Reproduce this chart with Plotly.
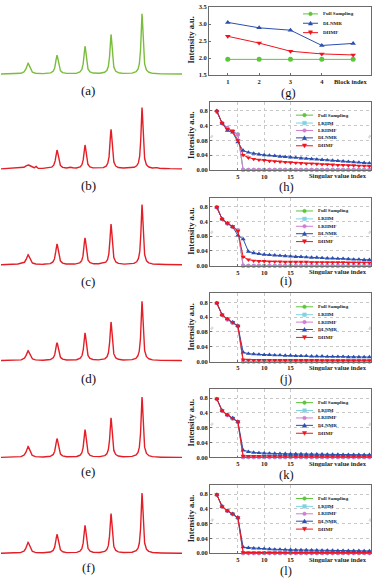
import numpy as np
import plotly.graph_objects as go

W, H = 373, 581

# ---------------- spectra (a)-(f): peak parameters ----------------
peak_pos = [27, 56, 84, 110, 141]
peak_hwhm = [2.0, 1.6, 1.4, 1.3, 1.2]
heights_a = [11, 19, 28, 40, 61]
heights_b = [4, 19, 24, 40, 62]
heights_c = [10, 21, 27, 41, 61]
heights_d = [10, 18, 28, 39, 60]
heights_e = [11, 19, 28, 40, 61]
heights_f = [11, 19, 28, 40, 61]
# small artefacts visible in (b) and (c)
artefact_pos_b = [10, 20, 35, 46, 70, 96, 127, 156, 166]
artefact_h_b = [0.7, 0.6, 2.0, 0.8, 1.2, 0.7, 1.0, 0.9, 0.6]
artefact_w_b = [3, 2, 0.8, 2, 2, 2, 2.5, 2, 2]
artefact_pos_c = [18, 100, 160]
artefact_h_c = [0.5, 0.4, 0.4]
artefact_w_c = [3, 3, 3]
spec_labels = ["(a)", "(b)", "(c)", "(d)", "(e)", "(f)"]

# ---------------- (g) ----------------
block_index = [1, 2, 3, 4, 5]
g_full = [1.96, 1.96, 1.96, 1.96, 1.96]
g_dlnmr = [3.05, 2.89, 2.82, 2.37, 2.43]
g_dhmf = [2.64, 2.44, 2.20, 2.12, 2.09]

# ---------------- (h)-(l) singular values ----------------
sv_index = list(range(1, 31))
full_head = [0.78, 0.46, 0.35, 0.28, 0.205]
zeros_tail = [0.0] * 25

h_dlnmr = [0.80, 0.46, 0.29, 0.25, 0.075,
           0.052, 0.047, 0.044, 0.042, 0.040, 0.039, 0.038, 0.036, 0.035, 0.034, 0.033, 0.031, 0.030,
           0.029, 0.028, 0.027, 0.026, 0.025, 0.024, 0.023, 0.022, 0.021, 0.020, 0.019, 0.018]
h_dhmf = [0.78, 0.46, 0.32, 0.28, 0.080,
          0.040, 0.033, 0.029, 0.027, 0.026, 0.024, 0.023, 0.022, 0.021, 0.020, 0.019, 0.018, 0.017,
          0.017, 0.016, 0.015, 0.015, 0.014, 0.013, 0.013, 0.012, 0.012, 0.011, 0.011, 0.010]
i_dlnmr = [0.78, 0.46, 0.36, 0.28, 0.095,
           0.072, 0.038, 0.034, 0.032, 0.030, 0.029, 0.028, 0.027, 0.026, 0.025, 0.024, 0.024, 0.023,
           0.022, 0.022, 0.021, 0.020, 0.020, 0.019, 0.019, 0.018, 0.017, 0.017, 0.016, 0.016]
i_dhmf = [0.78, 0.46, 0.36, 0.29, 0.19,
          0.024, 0.016, 0.013, 0.012, 0.012, 0.011, 0.011, 0.011, 0.010, 0.010, 0.010, 0.010, 0.010,
          0.009, 0.009, 0.009, 0.009, 0.009, 0.009, 0.009, 0.008, 0.008, 0.008, 0.008, 0.008]
j_dlnmr = [0.78, 0.46, 0.36, 0.29, 0.21,
           0.025, 0.021, 0.020, 0.019, 0.018, 0.018, 0.017, 0.017, 0.016, 0.016, 0.015, 0.015, 0.015,
           0.014, 0.014, 0.014, 0.013, 0.013, 0.013, 0.013, 0.012, 0.012, 0.012, 0.012, 0.012]
j_dhmf = [0.78, 0.46, 0.36, 0.29, 0.21,
          0.005, 0.0045, 0.004, 0.004, 0.004, 0.004, 0.0038, 0.0037, 0.0036, 0.0035, 0.0035, 0.0035, 0.0034,
          0.0034, 0.0034, 0.0033, 0.0033, 0.0033, 0.0033, 0.0032, 0.0032, 0.0032, 0.0032, 0.0031, 0.0031]
k_dlnmr = [0.78, 0.46, 0.36, 0.29, 0.21,
           0.019, 0.015, 0.013, 0.012, 0.011, 0.0105, 0.010, 0.0098, 0.0095, 0.0092, 0.009, 0.0088, 0.0086,
           0.0084, 0.0082, 0.008, 0.0078, 0.0076, 0.0074, 0.0072, 0.0071, 0.007, 0.0069, 0.0068, 0.0068]
k_dhmf = [0.78, 0.46, 0.36, 0.29, 0.21,
          0.0036, 0.0035, 0.0035, 0.0034, 0.0034, 0.0033, 0.0033, 0.0033, 0.0032, 0.0032, 0.0032, 0.0031, 0.0031,
          0.0031, 0.0031, 0.003, 0.003, 0.003, 0.003, 0.003, 0.003, 0.003, 0.003, 0.003, 0.003]
l_dlnmr = [0.78, 0.46, 0.36, 0.29, 0.21,
           0.016, 0.0145, 0.013, 0.0128, 0.012, 0.011, 0.010, 0.010, 0.0094, 0.009, 0.0088, 0.0085, 0.0082,
           0.008, 0.0078, 0.0075, 0.0072, 0.007, 0.0068, 0.0066, 0.0064, 0.0063, 0.0062, 0.0061, 0.006]
l_dhmf = [0.78, 0.46, 0.36, 0.29, 0.21,
          0.0018, 0.0017, 0.0017, 0.0017, 0.0017, 0.0016, 0.0016, 0.0016, 0.0016, 0.0016, 0.0016, 0.0015, 0.0015,
          0.0015, 0.0015, 0.0015, 0.0015, 0.0015, 0.0015, 0.0015, 0.0015, 0.0015, 0.0015, 0.0015, 0.0015]

sv_ytick_vals = [0.0, 0.04, 0.08, 0.4, 0.8]
sv_ytick_text = ["0.00", "0.04", "0.08", "0.4", "0.8"]
sv_xtick_vals = [5, 10, 15]
g_ytick_vals = [1.5, 2.0, 2.5, 3.0, 3.5]
g_ytick_text = ["1.5", "2.0", "2.5", "3.0", "3.5"]
g_xtick_vals = [1, 2, 3, 4]
sv_labels = ["(h)", "(i)", "(j)", "(k)", "(l)"]
series_names = ["Full Sampling", "LRHM", "LRHMF", "DLNMR", "DHMF"]

# ---------------- styling ----------------
GREEN_SPEC = "#7abd3c"
RED_SPEC = "#e41e26"
C_FULL = "#5cc53a"
C_LRHM = "#7fd3e3"
C_LRHMF = "#d07fd0"
C_DLNMR = "#2c4fae"
C_DHMF = "#f0141e"
SERIF = "Liberation Serif"
AX_LINE = "#6a6a6a"


def brk(v):
    """broken-axis mapping: 0-0.08 linear, then 0.08-0.4 and 0.4-0.8 compressed"""
    v = np.asarray(v, dtype=float)
    return np.where(v <= 0.08, v / 0.04,
                    np.where(v <= 0.4, 2 + (v - 0.08) / 0.32, 3 + (v - 0.4) / 0.4))


def px(x):
    return x / W


def py(y):
    return 1 - y / H


fig = go.Figure()
layout = dict(width=W, height=H, margin=dict(l=0, r=0, t=0, b=0), autosize=False,
              paper_bgcolor="white", plot_bgcolor="white", showlegend=False)
annotations = []
shapes = []

# ---------------- spectra ----------------
xs = np.arange(0, 181.05, 0.1)
baselines = [71, 167, 264, 361, 459, 556]
label_y = [88, 184, 281, 379, 473, 570]
heights_all = [heights_a, heights_b, heights_c, heights_d, heights_e, heights_f]
for k in range(6):
    hts = heights_all[k]
    widths = list(peak_hwhm)
    if k == 1:
        widths[0] = 3.0
    y = np.zeros_like(xs)
    for p, h, g in zip(peak_pos, hts, widths):
        y += h * g * g / ((xs - p) ** 2 + g * g)
    if k == 1:
        for p, h, g in zip(artefact_pos_b, artefact_h_b, artefact_w_b):
            y += h * g * g / ((xs - p) ** 2 + g * g)
    if k == 2:
        for p, h, g in zip(artefact_pos_c, artefact_h_c, artefact_w_c):
            y += h * g * g / ((xs - p) ** 2 + g * g)
    n = k + 1
    fig.add_trace(go.Scatter(x=xs, y=y, mode="lines",
                             line=dict(color=GREEN_SPEC if k == 0 else RED_SPEC, width=1.4),
                             xaxis=f"x{n}", yaxis=f"y{n}", hoverinfo="skip"))
    b = baselines[k]
    layout[f"xaxis{n}"] = dict(domain=[px(1), px(182)], range=[0, 181], visible=False, anchor=f"y{n}")
    layout[f"yaxis{n}"] = dict(domain=[py(b + 4), py(b - 66)], range=[-4, 66], visible=False, anchor=f"x{n}")
    annotations.append(dict(x=px(88), y=py(label_y[k]), xref="paper", yref="paper", text=spec_labels[k],
                            showarrow=False, font=dict(family=SERIF, size=13, color="#111"),
                            xanchor="center", yanchor="middle"))

tick_font = dict(family=SERIF, size=6.5, color="#222", weight="bold")
legend_font = dict(family=SERIF, size=5, color="#222", weight="bold")
title_font = dict(family=SERIF, size=8.5, color="#222", weight="bold")


def axis_common():
    return dict(showline=True, mirror=True, linecolor=AX_LINE, linewidth=0.8,
                ticks="inside", ticklen=2, tickcolor=AX_LINE, tickwidth=0.6,
                tickfont=tick_font, zeroline=False, ticklabeloverflow="allow")


def add_marker_shape(cx, cy, symbol, color, r=1.8):
    if symbol == "circle":
        shapes.append(dict(type="circle", xref="paper", yref="paper",
                           x0=px(cx - r), x1=px(cx + r), y0=py(cy + r), y1=py(cy - r),
                           fillcolor=color, line=dict(color=color, width=0.5)))
    elif symbol == "square":
        shapes.append(dict(type="rect", xref="paper", yref="paper",
                           x0=px(cx - r), x1=px(cx + r), y0=py(cy + r), y1=py(cy - r),
                           fillcolor=color, line=dict(color=color, width=0.5)))
    elif symbol == "triangle-up":
        path = f"M {px(cx - r - 0.3)},{py(cy + r)} L {px(cx + r + 0.3)},{py(cy + r)} L {px(cx)},{py(cy - r - 0.3)} Z"
        shapes.append(dict(type="path", xref="paper", yref="paper", path=path,
                           fillcolor=color, line=dict(color=color, width=0.5)))
    elif symbol == "triangle-down":
        path = f"M {px(cx - r - 0.3)},{py(cy - r)} L {px(cx + r + 0.3)},{py(cy - r)} L {px(cx)},{py(cy + r + 0.3)} Z"
        shapes.append(dict(type="path", xref="paper", yref="paper", path=path,
                           fillcolor=color, line=dict(color=color, width=0.5)))


def add_legend(x0, x1, xt, rows, names, colors, symbols):
    for yy, nm, c, s in zip(rows, names, colors, symbols):
        shapes.append(dict(type="line", xref="paper", yref="paper",
                           x0=px(x0), x1=px(x1), y0=py(yy), y1=py(yy), line=dict(color=c, width=1)))
        add_marker_shape((x0 + x1) / 2, yy, s, c)
        annotations.append(dict(x=px(xt), y=py(yy), xref="paper", yref="paper", text=nm, showarrow=False,
                                font=legend_font, xanchor="left", yanchor="middle"))


# ---------------- (g) ----------------
g_cols = [C_FULL, C_DLNMR, C_DHMF]
g_syms = ["circle", "triangle-up", "triangle-down"]
g_names = ["Full Sampling", "DLNMR", "DHMF"]
for vals, c, s in zip([g_full, g_dlnmr, g_dhmf], g_cols, g_syms):
    fig.add_trace(go.Scatter(x=block_index, y=vals, mode="lines+markers",
                             line=dict(color=c, width=1), marker=dict(symbol=s, size=5, color=c),
                             xaxis="x7", yaxis="y7", hoverinfo="skip"))
ax = axis_common()
ax.update(domain=[px(209), px(371)], range=[0.4, 5.57], tickvals=g_xtick_vals, anchor="y7",
          showgrid=False)
layout["xaxis7"] = ax
ay = axis_common()
ay.update(domain=[py(72), py(3)], range=[1.495, 3.505], tickvals=g_ytick_vals, ticktext=g_ytick_text,
          anchor="x7", showgrid=False)
layout["yaxis7"] = ay
annotations.append(dict(x=px(369), y=py(78), xref="paper", yref="paper", text="Block index",
                        showarrow=False, font=tick_font, xanchor="right", yanchor="middle"))
annotations.append(dict(x=px(191), y=py(37), xref="paper", yref="paper", text="Intensity a.u.",
                        showarrow=False, font=title_font, textangle=-90, xanchor="center", yanchor="middle"))
annotations.append(dict(x=px(288), y=py(90), xref="paper", yref="paper", text="(g)",
                        showarrow=False, font=dict(family=SERIF, size=12.5, color="#111"),
                        xanchor="center", yanchor="middle"))
add_legend(303, 318, 321, [10, 19.5, 29], g_names, g_cols, g_syms)

# ---------------- (h)-(l) ----------------
sv_bottoms = [168, 265, 362, 459, 556]
sv_label_y = [185, 280, 380, 477, 574]
dl_all = [h_dlnmr, i_dlnmr, j_dlnmr, k_dlnmr, l_dlnmr]
dh_all = [h_dhmf, i_dhmf, j_dhmf, k_dhmf, l_dhmf]
full_series = full_head + zeros_tail
sv_cols = [C_FULL, C_LRHM, C_LRHMF, C_DLNMR, C_DHMF]
sv_syms = ["circle", "square", "circle", "triangle-up", "triangle-down"]
sv_sizes = [4, 3.6, 4, 4.5, 4.5]
for k in range(5):
    n = 8 + k
    series = [full_series, full_series, full_series, dl_all[k], dh_all[k]]
    for vals, c, s, sz in zip(series, sv_cols, sv_syms, sv_sizes):
        fig.add_trace(go.Scatter(x=sv_index, y=brk(vals), mode="lines+markers",
                                 line=dict(color=c, width=1), marker=dict(symbol=s, size=sz, color=c),
                                 xaxis=f"x{n}", yaxis=f"y{n}", hoverinfo="skip", cliponaxis=False))
    bot = sv_bottoms[k]
    top = bot - 69
    ax = axis_common()
    ax.update(domain=[px(210), px(371)], range=[-0.3, 30.3], tickvals=sv_xtick_vals, anchor=f"y{n}",
              showgrid=True, gridcolor="#c8c8c8", griddash="dot", gridwidth=0.6)
    layout[f"xaxis{n}"] = ax
    ay = axis_common()
    ay.update(domain=[py(bot), py(top)], range=[-0.01, 4.6], tickvals=list(brk(sv_ytick_vals)),
              ticktext=sv_ytick_text, anchor=f"x{n}",
              showgrid=True, gridcolor="#c8c8c8", griddash="dot", gridwidth=0.6)
    layout[f"yaxis{n}"] = ay
    annotations.append(dict(x=px(369), y=py(bot + 6), xref="paper", yref="paper",
                            text="Singular value index", showarrow=False, font=tick_font,
                            xanchor="right", yanchor="middle"))
    annotations.append(dict(x=px(191), y=py((bot + top) / 2), xref="paper", yref="paper",
                            text="Intensity a.u.", showarrow=False, font=title_font, textangle=-90,
                            xanchor="center", yanchor="middle"))
    annotations.append(dict(x=px(286), y=py(sv_label_y[k]), xref="paper", yref="paper", text=sv_labels[k],
                            showarrow=False, font=dict(family=SERIF, size=12.5, color="#111"),
                            xanchor="center", yanchor="middle"))
    for bx in (212, 370):
        annotations.append(dict(x=px(bx), y=py(bot - 34), xref="paper", yref="paper", text="≈",
                                showarrow=False, font=dict(family=SERIF, size=6, color="#888"),
                                xanchor="center", yanchor="middle", textangle=-60))
    rows = [top + 13.5, top + 21.5, top + 29, top + 36.5, top + 44.5]
    add_legend(296, 313, 316, rows, series_names, sv_cols, sv_syms)

layout["annotations"] = annotations
layout["shapes"] = shapes
fig.update_layout(**layout)
fig.write_html("out.html", config={"displayModeBar": False},
               post_script="document.body.style.margin='0px';document.body.style.padding='0px';")
